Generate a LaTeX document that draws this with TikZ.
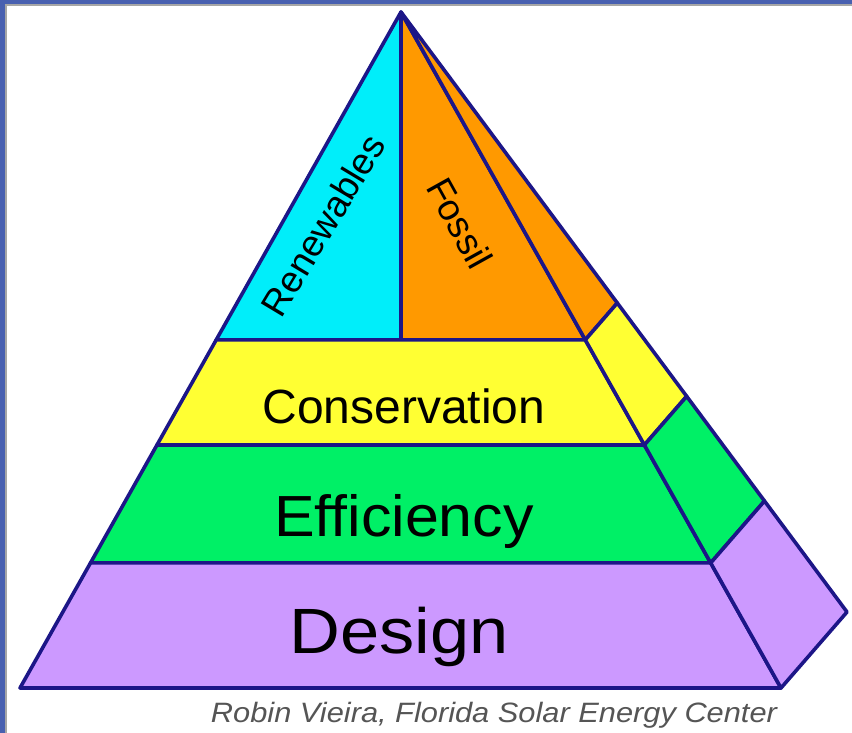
\documentclass[tikz,border=0pt]{standalone}
\usepackage{fontspec}
\setmainfont{Liberation Sans}
\usetikzlibrary{calc}
\definecolor{edge}{RGB}{28,22,135}
\definecolor{frameblue}{RGB}{72,96,176}
\definecolor{renew}{RGB}{0,238,250}
\definecolor{fossil}{RGB}{255,153,0}
\definecolor{conserve}{RGB}{255,255,51}
\definecolor{effic}{RGB}{0,240,102}
\definecolor{design}{RGB}{204,153,255}
\definecolor{credit}{RGB}{85,85,85}

\begin{document}
\begin{tikzpicture}[x=1pt, y=-1pt, line join=round,
    slab/.style={draw=edge, line width=3.6pt},
    word/.style={inner sep=0pt, text=black},
  ]
  \useasboundingbox (0,0) rectangle (852,733);
  % frame on the top and left sides
  \fill[black!35] (0,0) rectangle (852,6);
  \fill[black!35] (0,0) rectangle (7,733);
  \fill[frameblue] (0,0) rectangle (852,4);
  \fill[frameblue] (0,0) rectangle (5,733);

  % corners of the pyramid
  \coordinate (top) at (401,12);
  \coordinate (fl) at (20,688);
  \coordinate (fr) at (781,688);
  \coordinate (bk) at (847,612);
  % where the levels cut the three edges
  \foreach \n/\t in {1/0.485,2/0.6405,3/0.815} {
    \coordinate (l\n) at ($(top)!\t!(fl)$);
    \coordinate (r\n) at ($(top)!\t!(fr)$);
    \coordinate (b\n) at ($(top)!\t!(bk)$);
  }
  \coordinate (mid) at (top |- l1);

  % front faces
  \filldraw[slab, fill=renew] (top) -- (l1) -- (mid) -- cycle;
  \filldraw[slab, fill=fossil] (top) -- (mid) -- (r1) -- cycle;
  \filldraw[slab, fill=conserve] (l1) -- (r1) -- (r2) -- (l2) -- cycle;
  \filldraw[slab, fill=effic] (l2) -- (r2) -- (r3) -- (l3) -- cycle;
  \filldraw[slab, fill=design] (l3) -- (r3) -- (fr) -- (fl) -- cycle;
  % side faces
  \filldraw[slab, fill=fossil] (top) -- (r1) -- (b1) -- cycle;
  \filldraw[slab, fill=conserve] (r1) -- (b1) -- (b2) -- (r2) -- cycle;
  \filldraw[slab, fill=effic] (r2) -- (b2) -- (b3) -- (r3) -- cycle;
  \filldraw[slab, fill=design] (r3) -- (b3) -- (bk) -- (fr) -- cycle;

  \node[word, rotate=59, font=\fontsize{37}{37}\selectfont] (renewables) at (323,225) {Renewables};
  \node[word, rotate=-61, font=\fontsize{37}{37}\selectfont] (fossils) at (460,223) {Fossil};
  \node[word, anchor=base, font=\fontsize{48}{48}\selectfont] (conservation) at (404,423) {Conservation};
  \node[word, anchor=base, xscale=1.05, font=\fontsize{58}{58}\selectfont] (efficiency) at (404,536) {Efficiency};
  \node[word, anchor=base, xscale=1.1, font=\fontsize{64}{64}\selectfont] (designs) at (399,653) {Design};
  \node[word, anchor=base, xscale=1.1, text=credit, font=\itshape\fontsize{28}{28}\selectfont] (source) at (494,722) {Robin Vieira, Florida Solar Energy Center};
\end{tikzpicture}
\end{document}
